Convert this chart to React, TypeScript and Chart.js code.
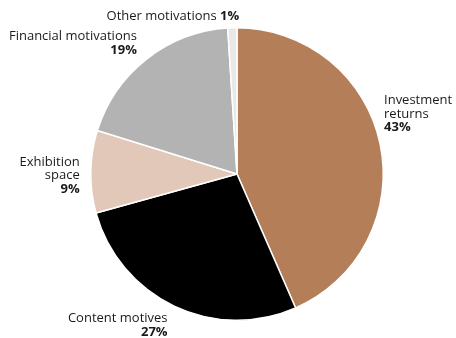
import React, { useEffect, useRef } from "react";
import { Chart, registerables } from "chart.js";

Chart.register(...registerables);

const categories = ["Investment returns", "Content motives", "Exhibition space", "Financial motivations", "Other motivations"];
const values = [43, 27, 9, 19, 1];
const percentLabels = ["43%", "27%", "9%", "19%", "1%"];
const colors = ["#b47e59", "#000000", "#e2c8b9", "#b3b3b3", "#e8e8e8"];

// label text lines (category name wrapped as in the reference)
const labelLines: string[][] = [
  ["Investment", "returns"],
  ["Content motives"],
  ["Exhibition", "space"],
  ["Financial motivations"],
  ["Other motivations"],
];

const FONT = "'Open Sans', 'Noto Sans', sans-serif";

const labelPlugin = {
  id: "outsideLabels",
  afterDatasetsDraw(chart: any, _args: any, opts: any) {
    const ctx = chart.ctx;
    const meta = chart.getDatasetMeta(0);
    const nudges = opts.nudges as number[][];
    const inline = opts.inline as boolean[];
    const lh = opts.lineHeight as number;
    ctx.save();
    ctx.fillStyle = "#1a1a1a";
    ctx.textBaseline = "alphabetic";
    meta.data.forEach((arc: any, i: number) => {
      const p = arc.getProps(["x", "y", "startAngle", "endAngle", "outerRadius"], true);
      const mid = (p.startAngle + p.endAngle) / 2;
      const R = p.outerRadius + 6;
      const ax = p.x + Math.cos(mid) * R + nudges[i][0];
      const ay = p.y + Math.sin(mid) * R + nudges[i][1];
      const right = Math.cos(mid) < 0;
      ctx.textAlign = right ? "right" : "left";
      const lines = labelLines[i];
      if (inline[i]) {
        ctx.font = `bold 13px ${FONT}`;
        const pw = ctx.measureText(percentLabels[i]).width;
        ctx.font = `13px ${FONT}`;
        const name = lines[0] + " ";
        const nw = ctx.measureText(name).width;
        ctx.textAlign = "left";
        const x0 = right ? ax - nw - pw : ax;
        ctx.fillText(name, x0, ay);
        ctx.font = `bold 13px ${FONT}`;
        ctx.fillText(percentLabels[i], x0 + nw, ay);
        return;
      }
      ctx.font = `13px ${FONT}`;
      lines.forEach((ln, k) => ctx.fillText(ln, ax, ay + k * lh));
      ctx.font = `bold 13px ${FONT}`;
      ctx.fillText(percentLabels[i], ax, ay + lines.length * lh);
    });
    ctx.restore();
  },
};

export default function App() {
  const ref = useRef<HTMLCanvasElement | null>(null);
  useEffect(() => {
    if (!ref.current) return;
    const chart = new Chart(ref.current, {
      type: "pie",
      data: {
        labels: categories,
        datasets: [
          {
            data: values,
            backgroundColor: colors,
            borderColor: "#ffffff",
            borderWidth: 1.5,
          },
        ],
      },
      options: {
        animation: false,
        responsive: false,
        maintainAspectRatio: false,
        layout: { padding: { left: 90, right: 72, top: 27, bottom: 17 } },
        plugins: {
          legend: { display: false },
          tooltip: { enabled: false },
          outsideLabels: {
            nudges: [[-2, -39], [-4, 11], [-5, -6], [-6, -14], [7, -2]],
            inline: [false, false, false, false, true],
            lineHeight: 13.8,
          },
        } as any,
      },
      plugins: [labelPlugin],
    });
    return () => chart.destroy();
  }, []);
  return (
    <div style={{ position: "fixed", left: 0, top: 0, width: 456, height: 338, background: "#fff" }}>
      <canvas ref={ref} width={456} height={338} style={{ width: 456, height: 338 }} />
    </div>
  );
}
